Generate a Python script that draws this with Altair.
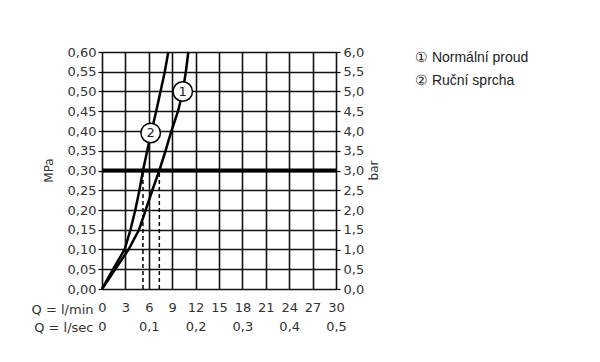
import altair as alt
import pandas as pd

# Curve 1 (Normální proud)
c1_q = [0, 1.7, 3.4, 4.75, 5.6, 6.45, 7.35, 8.15, 8.9, 9.75, 10.35, 10.75, 11.07]
c1_p = [0, 0.05, 0.10, 0.15, 0.20, 0.25, 0.30, 0.35, 0.40, 0.45, 0.50, 0.55, 0.60]
# Curve 2 (Ruční sprcha)
c2_q = [0, 1.4, 2.9, 3.65, 4.27, 4.8, 5.25, 5.8, 6.35, 6.95, 7.5, 8.05, 8.5]
c2_p = [0, 0.05, 0.10, 0.15, 0.20, 0.25, 0.30, 0.35, 0.40, 0.45, 0.50, 0.55, 0.60]

ref_pressure = 0.30
dash_q = [5.25, 7.35]
marker_q = [10.35, 6.24]
marker_p = [0.50, 0.395]
marker_lbl = ["1", "2"]

x_ticks = list(range(0, 31, 3))
y_ticks = [round(i * 0.05, 2) for i in range(13)]
sec_ticks = [0, 0.1, 0.2, 0.3, 0.4, 0.5]
bar_ticks = [i * 0.5 for i in range(13)]
legend_items = ["\u2460  Normální proud", "\u2461  Ruční sprcha"]

FONT = "DejaVu Sans"
LBL = "#333333"

curves = pd.DataFrame(
    [{"q": q, "p": p, "c": "1", "o": i} for i, (q, p) in enumerate(zip(c1_q, c1_p))]
    + [{"q": q, "p": p, "c": "2", "o": i} for i, (q, p) in enumerate(zip(c2_q, c2_p))]
)
dash_df = pd.DataFrame({"q": dash_q, "p0": [0, 0], "p1": [ref_pressure] * 2})
hline_df = pd.DataFrame({"q0": [0], "q1": [30], "p": [ref_pressure]})
mark_df = pd.DataFrame({"q": marker_q, "p": marker_p, "t": marker_lbl})

xs = alt.Scale(domain=[0, 30], nice=False, zero=False)
ys = alt.Scale(domain=[0, 0.6], nice=False, zero=False)

x_axis = alt.Axis(
    values=x_ticks, grid=True, gridColor="#111", gridWidth=1.6, gridOpacity=1,
    ticks=False, domain=False, labelPadding=12, labelFont=FONT, labelFontSize=13,
    labelColor=LBL, labelAngle=0, labelOverlap=False, labelFlush=False,
    title="Q = l/min", titleFont=FONT, titleFontSize=13, titleFontWeight="normal",
    titleColor=LBL, titleX=-9, titleY=20, titleAlign="right", titleBaseline="middle",
    titleAngle=0,
)
y_axis = alt.Axis(
    values=y_ticks, grid=True, gridColor="#111", gridWidth=1.6, gridOpacity=1,
    ticks=True, tickSize=4, tickColor="black", tickWidth=1.2, domain=False,
    labelPadding=2, labelFont=FONT, labelFontSize=13, labelColor=LBL, labelOverlap=False,
    labelFlush=False,
    labelExpr="replace(format(datum.value, '.2f'), '.', ',')",
    title="MPa", titleFont=FONT, titleFontSize=12, titleFontWeight="normal",
    titleColor=LBL, titleX=-54, titleY=118, titleAngle=270, titleAlign="center",
    titleBaseline="middle",
)

def X(f):
    return alt.X(f, scale=xs, axis=x_axis)

def Y(f):
    return alt.Y(f, scale=ys, axis=y_axis)

base_line = alt.Chart(curves).mark_line(color="black", strokeWidth=2.5).encode(
    x=X("q:Q"), y=Y("p:Q"), detail="c:N", order="o:Q",
)
dashes = alt.Chart(dash_df).mark_rule(color="black", strokeWidth=1.5, strokeDash=[4, 3]).encode(
    x=X("q:Q"), y=Y("p0:Q"), y2="p1:Q"
)
hline = alt.Chart(hline_df).mark_rule(color="black", strokeWidth=4).encode(
    x=X("q0:Q"), x2="q1:Q", y=Y("p:Q")
)
circles = alt.Chart(mark_df).mark_point(
    shape="circle", size=380, filled=True, fill="white", stroke="black", strokeWidth=1.5, opacity=1
).encode(x=X("q:Q"), y=Y("p:Q"))
circ_txt = alt.Chart(mark_df).mark_text(font=FONT, fontSize=13, color="#222").encode(
    x=X("q:Q"), y=Y("p:Q"), text="t:N"
)

def legend_line(txt, ypix):
    return alt.Chart(pd.DataFrame({"t": [txt]})).mark_text(
        font="Liberation Sans", fontSize=14, color="#222", align="left", baseline="middle"
    ).encode(x=alt.value(313), y=alt.value(ypix), text="t:N")

leg1 = legend_line(legend_items[0], 6)
leg2 = legend_line(legend_items[1], 29)

main = alt.layer(base_line, hline, dashes, circles, circ_txt, leg1, leg2)

aux_df = pd.DataFrame({"sec": [0, 0.5], "bar": [0, 6]})
aux = alt.Chart(aux_df).mark_point(opacity=0).encode(
    x=alt.X("sec:Q", scale=alt.Scale(domain=[0, 0.5], nice=False, zero=False),
            axis=alt.Axis(orient="bottom", values=sec_ticks, grid=False, ticks=False,
                          domain=False, labelPadding=31, labelFont=FONT, labelFontSize=13,
                          labelColor=LBL, labelAngle=0, labelOverlap=False, labelFlush=False,
                          labelExpr="datum.value == 0 ? '0' : replace(format(datum.value, '.1f'), '.', ',')",
                          title="Q = l/sec", titleFont=FONT, titleFontSize=13,
                          titleFontWeight="normal", titleColor=LBL, titleX=-9, titleY=38,
                          titleAlign="right", titleBaseline="middle", titleAngle=0)),
    y=alt.Y("bar:Q", scale=alt.Scale(domain=[0, 6], nice=False, zero=False),
            axis=alt.Axis(orient="right", values=bar_ticks, grid=False, ticks=True,
                          tickSize=4, tickColor="black", tickWidth=1.2, domain=False,
                          labelPadding=3, labelFont=FONT, labelFontSize=13, labelColor=LBL,
                          labelOverlap=False, labelFlush=False,
                          labelExpr="replace(format(datum.value, '.1f'), '.', ',')",
                          title="bar", titleFont=FONT, titleFontSize=12,
                          titleFontWeight="normal", titleColor=LBL, titleX=37, titleY=118,
                          titleAngle=270, titleAlign="center", titleBaseline="middle")),
)

chart = alt.layer(main, aux).resolve_scale(x="independent", y="independent").properties(
    width=234, height=237,
    autosize=alt.AutoSizeParams(type="none"),
    padding={"left": 94, "top": 44, "right": 256, "bottom": 65},
).configure_view(stroke="black", strokeWidth=2).configure(background="white")

chart.save("out.html", embed_options={"renderer": "svg", "actions": False})
